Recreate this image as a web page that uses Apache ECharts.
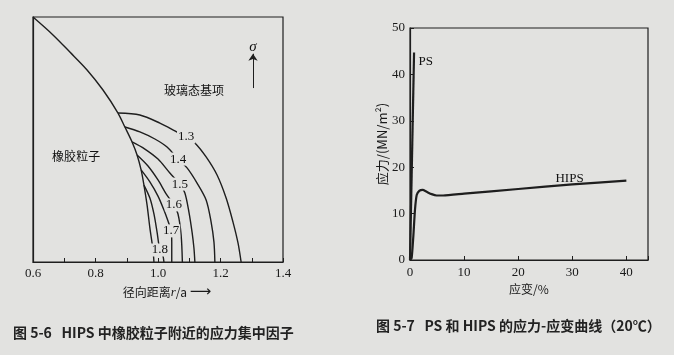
<!DOCTYPE html>
<html>
<head>
<meta charset="utf-8">
<script src="https://cdn.jsdelivr.net/npm/echarts@6/dist/echarts.min.js"></script>
<style>
  html, body { margin: 0; padding: 0; background: #e2e2e0; }
  #chart { width: 674px; height: 355px; }
</style>
</head>
<body>
<div id="chart"></div>
<script>
// 图 5-6：径向距离 r/a 与应力集中因子等值线（纵轴无刻度，取 0~1）
const mainCurve = [[0.600,1.000],[0.664,0.927],[0.718,0.857],[0.773,0.784],[0.824,0.702],[0.872,0.608],[0.894,0.551],[0.917,0.490],[0.933,0.437],[0.946,0.376],[0.955,0.314],[0.965,0.233],[0.974,0.139],[0.984,0.049],[0.987,0]];
const k13 = [[0.872,0.608],[0.942,0.600],[1.006,0.567],[1.054,0.535],[1.090,0.510],[1.118,0.486],[1.154,0.429],[1.189,0.355],[1.218,0.261],[1.240,0.163],[1.256,0.078],[1.266,0]];
const k14 = [[0.894,0.551],[0.942,0.531],[0.990,0.502],[1.029,0.469],[1.064,0.420],[1.093,0.384],[1.125,0.322],[1.154,0.253],[1.170,0.163],[1.179,0.082],[1.182,0]];
const k15 = [[0.917,0.490],[0.958,0.461],[1.000,0.420],[1.038,0.363],[1.070,0.318],[1.086,0.282],[1.099,0.204],[1.109,0.122],[1.115,0.057],[1.118,0]];
const k16 = [[0.933,0.437],[0.968,0.392],[1.000,0.335],[1.026,0.278],[1.051,0.233],[1.064,0.196],[1.074,0.110],[1.078,0]];
const k17 = [[0.946,0.376],[0.974,0.327],[1.000,0.269],[1.019,0.212],[1.032,0.167],[1.042,0.127],[1.044,0.082],[1.044,0]];
const k18 = [[0.955,0.314],[0.974,0.261],[0.987,0.196],[0.997,0.122],[1.006,0.049],[1.016,0.024],[1.019,0]];
const kNames = ['1.3', '1.4', '1.5', '1.6', '1.7', '1.8'];
const kLabelPos = [[1.090,0.510],[1.064,0.420],[1.070,0.318],[1.051,0.233],[1.042,0.127],[1.006,0.049]];
const leftNotes = [
  { name: '玻璃态基项', value: [1.115, 0.702] },
  { name: '橡胶粒子', value: [0.738, 0.429] }
];
const sigmaPos = [1.304, 0.878];
const sigmaArrow = [[1.304, 0.710], [1.304, 0.850]];

// 图 5-7：应力-应变曲线
const psCurve = [[0,0],[0.75,44.7]];
const hipsCurve = [[0,0],[0.3,0.4],[0.61,5],[0.92,10.8],[1.24,14],[1.71,14.9],[2.34,15.1],[3.08,14.7],[4.0,14.2],[4.92,13.9],[6.14,13.9],[10,14.3],[20,15.3],[30,16.3],[40,17.1]];
const rightNotes = [
  { name: 'PS', value: [2.9, 42.7] },
  { name: 'HIPS', value: [29.5, 17.6] }
];

const ink = '#1e1e1e';
const bg = '#e2e2e0';
const serif = 'Liberation Serif';
const cjk = 'Noto Sans CJK SC';

const chart = echarts.init(document.getElementById('chart'));

function contour(data) {
  return {
    type: 'line', xAxisIndex: 0, yAxisIndex: 0, data: data,
    showSymbol: false, smooth: 0.3,
    lineStyle: { color: ink, width: 1.4 }
  };
}

// 纯文字标注：小点与底色同色 + 标签
function textLayer(xi, data, label) {
  return {
    type: 'scatter', xAxisIndex: xi, yAxisIndex: xi, z: 5,
    symbolSize: 1, itemStyle: { color: bg, opacity: 1 },
    data: data,
    label: Object.assign({
      show: true, position: 'inside', formatter: '{b}', color: '#111',
      opacity: 1, textBorderWidth: 0
    }, label)
  };
}

const option = {
  backgroundColor: bg,
  animation: false,
  title: [
    { text: '图 5-6   HIPS 中橡胶粒子附近的应力集中因子', left: 8, top: 321,
      textStyle: { fontFamily: cjk, fontSize: 14, fontWeight: 'bold', color: '#222' } },
    { text: '图 5-7   PS 和 HIPS 的应力-应变曲线（20℃）', left: 371, top: 314,
      textStyle: { fontFamily: cjk, fontSize: 14, fontWeight: 'bold', color: '#222' } }
  ],
  grid: [
    { left: 33, top: 17, right: 391, bottom: 93, show: true, borderColor: ink, borderWidth: 1.2, backgroundColor: 'transparent' },
    { left: 410, top: 28, right: 26, bottom: 95, show: true, borderColor: ink, borderWidth: 1.2, backgroundColor: 'transparent' }
  ],
  xAxis: [
    {
      gridIndex: 0, type: 'value', min: 0.6, max: 1.4, interval: 0.1,
      axisLine: { show: true, lineStyle: { color: ink, width: 1.2 } },
      axisTick: { show: true, inside: true, length: 4, lineStyle: { color: ink } },
      splitLine: { show: false },
      axisLabel: {
        color: '#1a1a1a', fontFamily: serif, fontSize: 13, margin: 5,
        formatter: v => (Math.round(v * 10) % 2 === 0 ? v.toFixed(1) : '')
      },
      name: '径向距离{i|r}/a {a|⟶}', nameLocation: 'middle', nameGap: 19,
      nameTextStyle: {
        fontFamily: cjk, fontSize: 12, color: '#1a1a1a', padding: [0, 0, 0, 18],
        rich: {
          i: { fontFamily: serif, fontStyle: 'italic', fontSize: 13, color: '#1a1a1a' },
          a: { fontFamily: 'DejaVu Sans', fontSize: 15, color: '#1a1a1a' }
        }
      }
    },
    {
      gridIndex: 1, type: 'value', min: 0, max: 44, interval: 10,
      axisLine: { show: true, lineStyle: { color: ink, width: 1.2 } },
      axisTick: { show: true, inside: true, length: 4, lineStyle: { color: ink } },
      splitLine: { show: false },
      axisLabel: {
        color: '#1a1a1a', fontFamily: serif, fontSize: 13, margin: 6,
        formatter: v => (v % 10 === 0 ? String(v) : '')
      },
      name: '应变/%', nameLocation: 'middle', nameGap: 18,
      nameTextStyle: { fontFamily: cjk, fontSize: 12, color: '#1a1a1a' }
    }
  ],
  yAxis: [
    {
      gridIndex: 0, type: 'value', min: 0, max: 1,
      axisLine: { show: true, lineStyle: { color: ink, width: 1.2 } },
      axisTick: { show: false }, axisLabel: { show: false }, splitLine: { show: false }
    },
    {
      gridIndex: 1, type: 'value', min: 0, max: 50, interval: 10,
      axisLine: { show: true, lineStyle: { color: ink, width: 1.2 } },
      axisTick: { show: true, inside: true, length: 4, lineStyle: { color: ink } },
      splitLine: { show: false },
      axisLabel: { color: '#1a1a1a', fontFamily: serif, fontSize: 13, margin: 5 },
      name: '应力/(MN/m²)', nameLocation: 'middle', nameGap: 21, nameRotate: 90,
      nameTextStyle: { fontFamily: cjk, fontSize: 13, color: '#1a1a1a' }
    }
  ],
  series: [
    {
      type: 'line', xAxisIndex: 0, yAxisIndex: 0, data: mainCurve,
      showSymbol: false, smooth: 0.3,
      lineStyle: { color: ink, width: 1.4 },
      markLine: {
        silent: true, symbol: ['none', 'arrow'], symbolSize: 7,
        lineStyle: { color: ink, width: 1, type: 'solid' },
        label: { show: false },
        data: [[{ coord: sigmaArrow[0] }, { coord: sigmaArrow[1] }]]
      }
    },
    contour(k13), contour(k14), contour(k15), contour(k16), contour(k17), contour(k18),
    textLayer(0, kNames.map((n, i) => ({ name: n, value: kLabelPos[i] })),
      { fontFamily: serif, fontSize: 13, backgroundColor: bg, padding: [0, 1] }),
    textLayer(0, leftNotes, { fontFamily: cjk, fontSize: 12 }),
    textLayer(0, [{ name: 'σ', value: sigmaPos }], { fontFamily: serif, fontStyle: 'italic', fontSize: 15 }),
    {
      type: 'line', xAxisIndex: 1, yAxisIndex: 1, data: psCurve,
      showSymbol: false, lineStyle: { color: ink, width: 2.2 }
    },
    {
      type: 'line', xAxisIndex: 1, yAxisIndex: 1, data: hipsCurve,
      showSymbol: false, smooth: 0.2, lineStyle: { color: ink, width: 2.2 }
    },
    textLayer(1, rightNotes, { fontFamily: serif, fontSize: 13 })
  ]
};

chart.setOption(option);
</script>
</body>
</html>
